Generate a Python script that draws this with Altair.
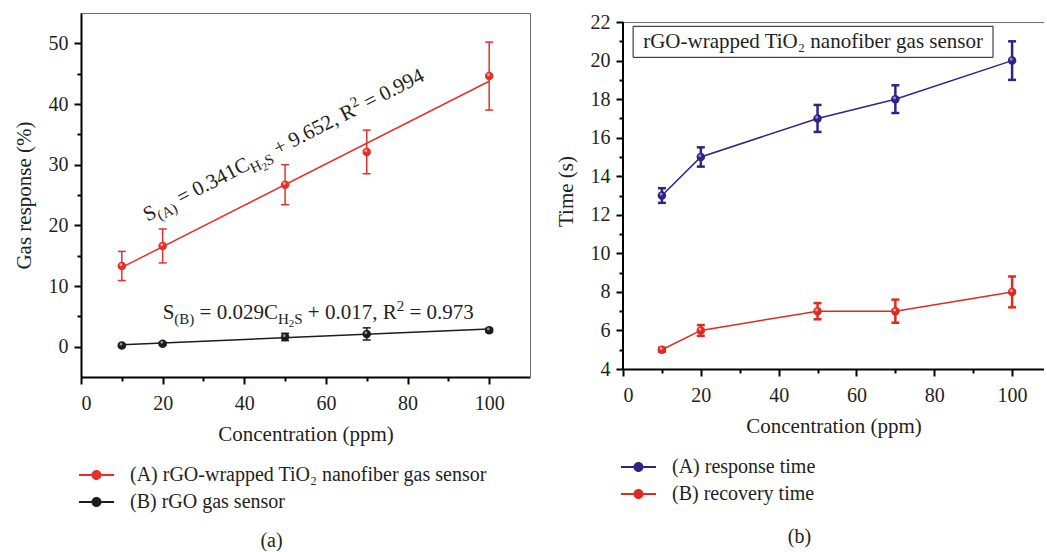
import altair as alt
import pandas as pd

FONT = "Liberation Serif"
TEXT = "#231f20"

# ---------------- panel (a): gas response vs. H2S concentration ----------------
conc = [10, 20, 50, 70, 100]
resp_tio2 = [13.3, 16.6, 26.7, 32.1, 44.6]
resp_tio2_err = [2.4, 2.8, 3.3, 3.6, 5.6]
resp_rgo = [0.2, 0.5, 1.6, 2.1, 2.7]
resp_rgo_err = [0.2, 0.2, 0.6, 1.0, 0.3]
series_a = ["(A) rGO-wrapped TiO\u2082 nanofiber gas sensor", "(B) rGO gas sensor"]
colors_a = ["#e4312b", "#1c1c1c"]
shine_a = ["#ffb0a4", "#9a9a9a"]
fit_slope = [0.341, 0.029]
fit_intercept = [9.652, 0.017]
fit_r2 = [0.994, 0.973]
fit_tags = ["(A)", "(B)"]

# ---------------- panel (b): response / recovery time ----------------
response_time = [13, 15, 17, 18, 20]
response_err = [0.38, 0.5, 0.7, 0.72, 1.0]
recovery_time = [5, 6, 7, 7, 8]
recovery_err = [0.1, 0.28, 0.42, 0.6, 0.8]
series_b = ["(A) response time", "(B) recovery time"]
colors_b = ["#2f2485", "#de2b21"]
shine_b = ["#9b92e0", "#ffa99e"]
box_label = "rGO-wrapped TiO\u2082 nanofiber gas sensor"
time_ticks = list(range(4, 23, 2))

# annotation anchors (data coordinates)
EQ_ANCHORS = [(16.3, 20.6, 333), (20.0, 4.6, 0)]
BOX = dict(x=2.6, x2=95.1, y=21.78, y2=20.17)

# panel (b) geometry: plotting area reaches a little above the 22 s line
H_B = 356
Y_TOP_B = 22.47
PX_PER_S = H_B / (Y_TOP_B - time_ticks[0])


def long_frame(xs, series, values, errors):
    rows = []
    for name, vals, errs in zip(series, values, errors):
        for x, v, e in zip(xs, vals, errs):
            rows.append({"conc": x, "value": v, "err": e, "series": name})
    return pd.DataFrame(rows)


df_a = long_frame(conc, series_a, [resp_tio2, resp_rgo], [resp_tio2_err, resp_rgo_err])
df_b = long_frame(conc, series_b, [response_time, recovery_time], [response_err, recovery_err])

fit_rows = []
for name, m, b in zip(series_a, fit_slope, fit_intercept):
    for x in (min(conc), max(conc)):
        fit_rows.append({"conc": x, "fit": m * x + b, "series": name})
df_fit = pd.DataFrame(fit_rows)

# legend glyph: short line with a dot in the middle
LEGEND_GLYPH = ("M -1 -0.2 L 1.5 -0.2 L 1.5 0.2 L -1 0.2 Z "
                "M 3.5 -0.2 L 6 -0.2 L 6 0.2 L 3.5 0.2 Z "
                "M 3.5 0 A 1 1 0 1 1 1.5 0 A 1 1 0 1 1 3.5 0 Z")
# small specular spot drawn on each marker
SHINE = "M -0.55 -0.3 A 0.35 0.35 0 1 1 0.15 -0.3 A 0.35 0.35 0 1 1 -0.55 -0.3 Z"

# rough advance widths (per 1000 em) of a Times-like serif
ADV = {" ": 250, "(": 333, ")": 333, "+": 564, ",": 250, ".": 250, "=": 564,
       "A": 722, "B": 667, "C": 667, "H": 722, "R": 667, "S": 556}
ROLE = {"n": (21, 0), "sub": (15, 5), "subsub": (11, 8), "sup": (15, -8)}


def adv(s, size):
    return sum(ADV.get(c, 500) for c in s) * size / 1000.0


def equation_tokens(tag, m, b, r2):
    return [("S", "n"), (tag, "sub"), (f" = {m:.3f}C", "n"), ("H", "sub"), ("2", "subsub"),
            ("S", "sub"), (f" + {b:.3f}, R", "n"), ("2", "sup"), (f" = {r2:.3f}", "n")]


def equation_layers(tokens, x, y, angle, xs, ys):
    anchor = pd.DataFrame({"x": [x], "y": [y]})
    out, offset = [], 0.0
    for txt, role in tokens:
        size, shift = ROLE[role]
        lead = len(txt) - len(txt.lstrip(" "))
        props = dict(text=txt.strip(" "), fontSize=size, dx=offset + lead * adv(" ", size), dy=shift,
                     align="left", baseline="alphabetic", font=FONT, color=TEXT)
        if angle:
            props["angle"] = angle
        out.append(alt.Chart(anchor).mark_text(**props).encode(
            x=alt.X("x:Q", scale=xs, axis=None), y=alt.Y("y:Q", scale=ys, axis=None)))
        offset += adv(txt, size)
    return out


def minor_axis(vals, orient):
    return alt.Axis(values=vals, labels=False, domain=False, tickSize=4, title=None, orient=orient)


def frame_axis(orient, offset=0):
    return alt.Axis(labels=False, ticks=False, domainColor="#6d6d6d", domainWidth=1, title=None,
                    orient=orient, offset=offset)


def legend(y):
    return alt.Legend(title=None, orient="none", legendX=-7, legendY=y, direction="vertical",
                      symbolType=LEGEND_GLYPH, symbolSize=100, symbolStrokeWidth=0, symbolOpacity=1,
                      labelFont=FONT, labelFontSize=20, labelColor=TEXT, labelOffset=36,
                      rowPadding=7, labelLimit=600)


def caption(text, offset):
    return alt.TitleParams(text=text, orient="bottom", anchor="middle", frame="bounds", offset=offset,
                           fontSize=20, font=FONT, fontWeight="normal", color=TEXT)


def conc_axis():
    return alt.Axis(values=[0, 20, 40, 60, 80, 100], orient="bottom", title="Concentration (ppm)",
                    labelPadding=9, titlePadding=10)


# ---------------- build panel (a) ----------------
xs_a = alt.Scale(domain=[0, 110], nice=False, zero=False)
ys_a = alt.Scale(domain=[-5, 55], nice=False, zero=False)
col_a = alt.Scale(domain=series_a, range=colors_a)
fill_a = alt.Scale(domain=series_a, range=shine_a)
leg_a = legend(452)


def color_a():
    return alt.Color("series:N", scale=col_a, legend=leg_a)


fit_lines = alt.Chart(df_fit).mark_line(strokeWidth=1.5).encode(
    x=alt.X("conc:Q", scale=xs_a, axis=conc_axis()),
    y=alt.Y("fit:Q", scale=ys_a, axis=alt.Axis(values=[0, 10, 20, 30, 40, 50], orient="left",
                                                title="Gas response (%)", titlePadding=14)),
    color=color_a(),
    detail="series:N",
)
base_a = alt.Chart(df_a).transform_calculate(lo="datum.value - datum.err", hi="datum.value + datum.err")
bars_a = base_a.mark_rule(strokeWidth=1.5).encode(
    x=alt.X("conc:Q", scale=xs_a, axis=minor_axis([10, 30, 50, 70, 90], "bottom")),
    y=alt.Y("lo:Q", scale=ys_a, axis=minor_axis([5, 15, 25, 35, 45], "left")),
    y2="hi:Q",
    color=color_a(),
)
caps_a = base_a.transform_fold(["lo", "hi"], as_=["end", "yv"]).mark_tick(
    orient="horizontal", size=8, thickness=1.5, opacity=1).encode(
    x=alt.X("conc:Q", scale=xs_a, axis=frame_axis("top")),
    y=alt.Y("yv:Q", scale=ys_a, axis=frame_axis("right")),
    color=color_a(),
)
dots_a = alt.Chart(df_a).mark_circle(size=72, opacity=1).encode(
    x=alt.X("conc:Q", scale=xs_a, axis=None),
    y=alt.Y("value:Q", scale=ys_a, axis=None),
    color=color_a(),
)
shine_pts_a = alt.Chart(df_a).mark_point(shape=SHINE, filled=True, size=72, opacity=0.9).encode(
    x=alt.X("conc:Q", scale=xs_a, axis=None),
    y=alt.Y("value:Q", scale=ys_a, axis=None),
    fill=alt.Fill("series:N", scale=fill_a, legend=None),
)
eq_layers = []
for (ex, ey, ang), tag, m, b, r2 in zip(EQ_ANCHORS, fit_tags, fit_slope, fit_intercept, fit_r2):
    eq_layers += equation_layers(equation_tokens(tag, m, b, r2), ex, ey, ang, xs_a, ys_a)

panel_a = alt.layer(fit_lines, bars_a, caps_a, dots_a, shine_pts_a, *eq_layers).resolve_axis(
    x="independent", y="independent").properties(width=449, height=364, title=caption("(a)", 19))

# ---------------- build panel (b) ----------------
xs_b = alt.Scale(domain=[0, 108.2], nice=False, zero=False)
ys_b = alt.Scale(domain=[time_ticks[0], Y_TOP_B], nice=False, zero=False)
col_b = alt.Scale(domain=series_b, range=colors_b)
fill_b = alt.Scale(domain=series_b, range=shine_b)
leg_b = legend(444)


def color_b():
    return alt.Color("series:N", scale=col_b, legend=leg_b)


# left spine of panel (b), running over the labelled range only
spine_b = alt.Chart(pd.DataFrame({"x": [0], "y": [time_ticks[0]], "y2": [time_ticks[-1]]})).mark_rule(
    color="black", strokeWidth=2).encode(
    x=alt.X("x:Q", scale=xs_b, axis=None), y=alt.Y("y:Q", scale=ys_b, axis=None), y2="y2:Q")

lines_b = alt.Chart(df_b).mark_line(strokeWidth=1.5).encode(
    x=alt.X("conc:Q", scale=xs_b, axis=conc_axis()),
    y=alt.Y("value:Q", scale=ys_b, axis=alt.Axis(values=time_ticks, orient="left", domain=False,
                                                  title="Time (s)", titlePadding=14)),
    color=color_b(),
)
base_b = alt.Chart(df_b).transform_calculate(lo="datum.value - datum.err", hi="datum.value + datum.err")
bars_b = base_b.mark_rule(strokeWidth=2.5).encode(
    x=alt.X("conc:Q", scale=xs_b, axis=minor_axis([10, 30, 50, 70, 90], "bottom")),
    y=alt.Y("lo:Q", scale=ys_b, axis=minor_axis(list(range(5, 22, 2)), "left")),
    y2="hi:Q",
    color=color_b(),
)
caps_b = base_b.transform_fold(["lo", "hi"], as_=["end", "yv"]).mark_tick(
    orient="horizontal", size=8, thickness=2.5, opacity=1).encode(
    x=alt.X("conc:Q", scale=xs_b,
            axis=frame_axis("top", offset=-round((Y_TOP_B - time_ticks[-1]) * PX_PER_S, 2))),
    y=alt.Y("yv:Q", scale=ys_b, axis=None),
    color=color_b(),
)
dots_b = alt.Chart(df_b).mark_circle(size=72, opacity=1).encode(
    x=alt.X("conc:Q", scale=xs_b, axis=None),
    y=alt.Y("value:Q", scale=ys_b, axis=None),
    color=color_b(),
)
shine_pts_b = alt.Chart(df_b).mark_point(shape=SHINE, filled=True, size=72, opacity=0.9).encode(
    x=alt.X("conc:Q", scale=xs_b, axis=None),
    y=alt.Y("value:Q", scale=ys_b, axis=None),
    fill=alt.Fill("series:N", scale=fill_b, legend=None),
)
box_df = pd.DataFrame([BOX])
label_box = alt.Chart(box_df).mark_rect(fill="white", stroke="#1a1a1a", strokeWidth=1).encode(
    x=alt.X("x:Q", scale=xs_b, axis=None), x2="x2:Q",
    y=alt.Y("y:Q", scale=ys_b, axis=None), y2="y2:Q",
)
label_text = alt.Chart(box_df).transform_calculate(
    cx="(datum.x + datum.x2) / 2", cy="(datum.y + datum.y2) / 2").mark_text(
    text=box_label, font=FONT, fontSize=21, color=TEXT, align="center", baseline="middle").encode(
    x=alt.X("cx:Q", scale=xs_b, axis=None), y=alt.Y("cy:Q", scale=ys_b, axis=None))

panel_b = alt.layer(lines_b, bars_b, caps_b, spine_b, dots_b, shine_pts_b, label_box, label_text).resolve_axis(
    x="independent", y="independent").properties(width=421, height=H_B, title=caption("(b)", 23))

chart = alt.hconcat(panel_a, panel_b, spacing=25).resolve_scale(
    x="independent", y="independent", color="independent", fill="independent"
).resolve_legend(color="independent", fill="independent").properties(
    padding={"left": 13, "top": 12, "right": 0, "bottom": 0}
).configure_view(stroke=None).configure_axis(
    grid=False, domainColor="black", domainWidth=2, tickColor="black", tickWidth=2, tickSize=7,
    labelFont=FONT, labelFontSize=20, labelColor=TEXT, labelPadding=6,
    titleFont=FONT, titleFontSize=21, titleFontWeight="normal", titleColor=TEXT,
)

chart.save("out.html", embed_options={"renderer": "svg", "actions": False})
